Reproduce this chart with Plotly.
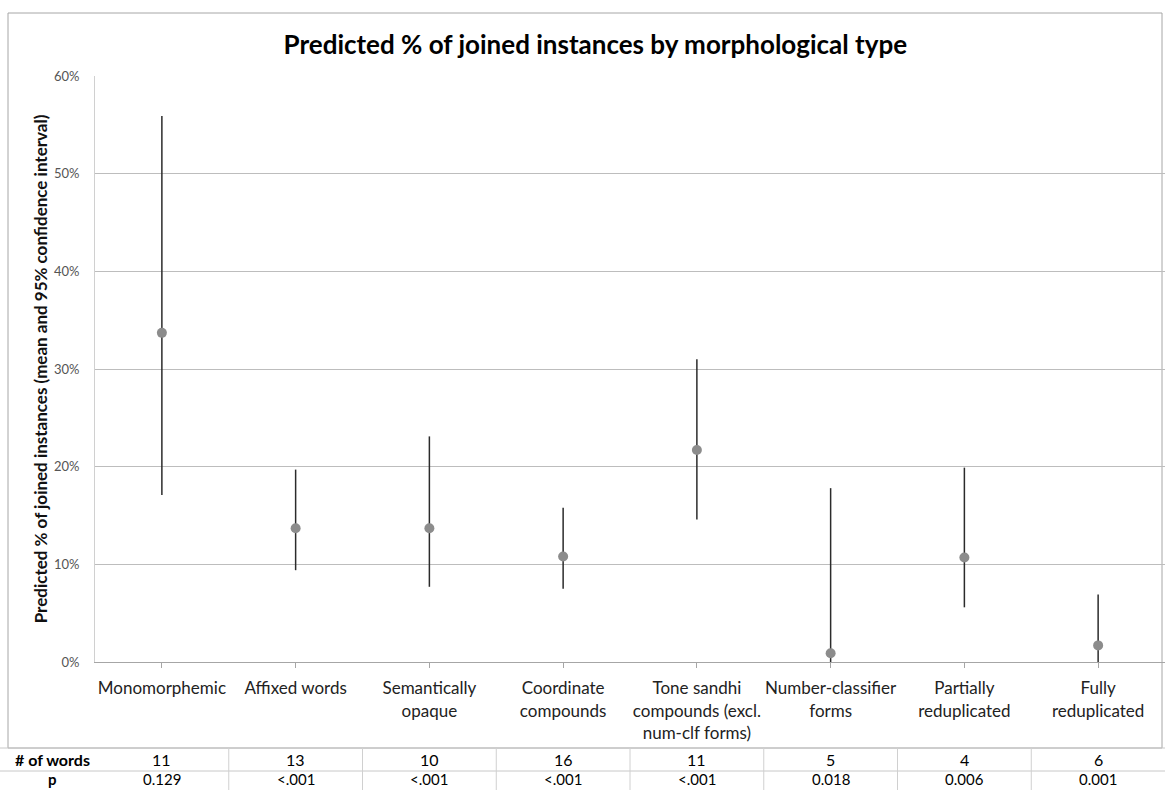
import plotly.graph_objects as go

# ---- data ----
categories = ["Monomorphemic", "Affixed words", "Semantically<br>opaque",
              "Coordinate<br>compounds", "Tone sandhi<br>compounds (excl.<br>num-clf forms)",
              "Number-classifier<br>forms", "Partially<br>reduplicated", "Fully<br>reduplicated"]
mean_pct = [33.7, 13.7, 13.7, 10.8, 21.7, 0.9, 10.7, 1.7]
upper_pct = [55.9, 19.7, 23.1, 15.8, 31.0, 17.8, 19.9, 6.9]
lower_pct = [17.1, 9.4, 7.7, 7.5, 14.6, 0.0, 5.6, 0.0]
n_words = ["11", "13", "10", "16", "11", "5", "4", "6"]
p_values = ["0.129", "<.001", "<.001", "<.001", "<.001", "0.018", "0.006", "0.001"]
y_ticks = [0, 0.1, 0.2, 0.3, 0.4, 0.5, 0.6]

FONT = "Lato, 'Open Sans', sans-serif"

mean = [m / 100 for m in mean_pct]
err_plus = [(u - m) / 100 for u, m in zip(upper_pct, mean_pct)]
err_minus = [(m - l) / 100 for m, l in zip(mean_pct, lower_pct)]
xs = list(range(len(categories)))

fig = go.Figure()
fig.add_trace(go.Scatter(
    x=xs, y=mean, mode="markers",
    marker=dict(color="#8c8c8c", size=10),
    error_y=dict(type="data", array=err_plus, arrayminus=err_minus,
                 symmetric=False, color="#2b2b2b", thickness=1.5, width=0),
    showlegend=False, hoverinfo="y"))

W, H = 1165, 790
L, R, T, B = 95, 0, 76, 128
pw, ph = W - L - R, H - T - B


def px(x):
    return (x - L) / pw


def py(y):
    return (H - B - y) / ph


shapes = []
# outer chart frame
shapes.append(dict(type="rect", xref="paper", yref="paper",
                   x0=px(8), x1=px(1162), y0=py(748), y1=py(13),
                   line=dict(color="#a6a6a6", width=1), layer="below"))
# table horizontal lines
for yy in [748, 771]:
    shapes.append(dict(type="line", xref="paper", yref="paper",
                       x0=px(0), x1=px(1165), y0=py(yy), y1=py(yy),
                       line=dict(color="#c8c8c8", width=1)))
# table column separators
for k in range(1, len(categories)):
    xb = k - 0.5
    shapes.append(dict(type="line", xref="x", yref="paper",
                       x0=xb, x1=xb, y0=py(790), y1=py(748),
                       line=dict(color="#d0d0d0", width=1)))

annotations = []
annotations.append(dict(text="<b># of words</b>", xref="paper", yref="paper",
                        x=px(52), y=py(759), showarrow=False, xanchor="center", yanchor="middle",
                        font=dict(family=FONT, size=16, color="#000")))
annotations.append(dict(text="<b>p</b>", xref="paper", yref="paper",
                        x=px(52), y=py(779), showarrow=False, xanchor="center", yanchor="middle",
                        font=dict(family=FONT, size=15, color="#000")))
for i in xs:
    annotations.append(dict(text=n_words[i], xref="x", yref="paper", x=i, y=py(759),
                            showarrow=False, xanchor="center", yanchor="middle",
                            font=dict(family=FONT, size=16, color="#000")))
    annotations.append(dict(text=p_values[i], xref="x", yref="paper", x=i, y=py(779),
                            showarrow=False, xanchor="center", yanchor="middle",
                            font=dict(family=FONT, size=15, color="#000")))

fig.update_layout(
    width=W, height=H,
    margin=dict(l=L, r=R, t=T, b=B),
    paper_bgcolor="white", plot_bgcolor="white",
    title=dict(text="<b>Predicted % of joined instances by morphological type</b>",
               x=0.511, xanchor="center", y=1 - 45 / H, yanchor="middle",
               font=dict(family=FONT, size=26, color="#000")),
    font=dict(family=FONT),
    xaxis=dict(range=[-0.5, len(categories) - 0.5], tickmode="array", tickvals=xs,
               ticktext=categories, ticks="outside", ticklen=5, tickcolor="#a6a6a6",
               showline=True, linecolor="#a6a6a6", linewidth=1, showgrid=False,
               zeroline=False, tickangle=0, ticklabelstandoff=6,
               tickfont=dict(family=FONT, size=17, color="#222")),
    yaxis=dict(range=[0, 0.6], tickvals=y_ticks, tickformat=".0%",
               showgrid=True, gridcolor="#bdbdbd", gridwidth=1,
               showline=True, linecolor="#d0d0d0", zeroline=False,
               ticks="", ticklabelstandoff=12,
               tickfont=dict(family=FONT, size=13, color="#555"),
               title=dict(text="<b>Predicted % of joined instances (mean and 95% confidence interval)</b>",
                          font=dict(family=FONT, size=17, color="#111"), standoff=1)),
    shapes=shapes, annotations=annotations,
)

fig.write_html("out.html", config={"displayModeBar": False},
               post_script="document.body.style.margin='0';document.body.style.overflow='hidden';")
